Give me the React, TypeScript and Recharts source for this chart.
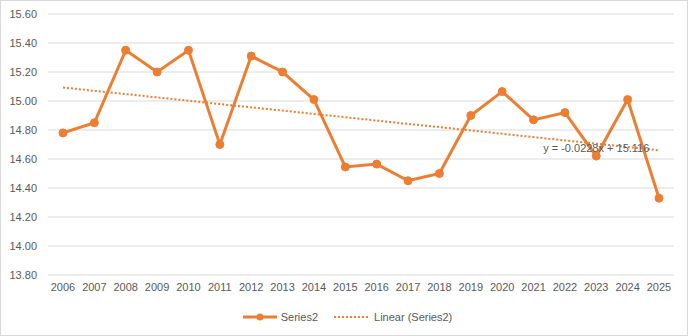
import React from 'react';
import { LineChart, Line, XAxis, YAxis, CartesianGrid, Legend, LabelList } from 'recharts';

const years = ['2006', '2007', '2008', '2009', '2010', '2011', '2012', '2013', '2014', '2015', '2016', '2017', '2018', '2019', '2020', '2021', '2022', '2023', '2024', '2025'];
const series2 = [14.78, 14.85, 15.35, 15.2, 15.35, 14.7, 15.31, 15.2, 15.01, 14.545, 14.565, 14.45, 14.5, 14.9, 15.065, 14.87, 14.92, 14.62, 15.01, 14.33];
const trend = [15.093, 15.07, 15.048, 15.025, 15.002, 14.979, 14.956, 14.934, 14.911, 14.888, 14.865, 14.842, 14.82, 14.797, 14.774, 14.751, 14.728, 14.706, 14.683, 14.66];
const yTicks = [13.8, 14.0, 14.2, 14.4, 14.6, 14.8, 15.0, 15.2, 15.4, 15.6];
const trendLabel = 'y = -0.0228x + 15.116';

const ORANGE = '#ED7D31';
const TEXT = '#595959';
const FONT = '"Liberation Sans", Arial, sans-serif';

const data = years.map((y, i) => ({ year: y, s2: series2[i], trend: trend[i] }));

function LegendBox() {
  return (
    <div style={{ display: 'flex', justifyContent: 'center', alignItems: 'center', gap: 16, paddingLeft: 20, fontFamily: FONT, fontSize: 11, color: TEXT, height: 24 }}>
      <div style={{ display: 'flex', alignItems: 'center' }}>
        <svg width={34} height={10}>
          <line x1={0} y1={5} x2={34} y2={5} stroke={ORANGE} strokeWidth={3} />
          <circle cx={17} cy={5} r={3.5} fill={ORANGE} />
        </svg>
        <span style={{ marginLeft: 4 }}>Series2</span>
      </div>
      <div style={{ display: 'flex', alignItems: 'center' }}>
        <svg width={34} height={10}>
          <line x1={0} y1={5} x2={34} y2={5} stroke={ORANGE} strokeWidth={2} strokeDasharray="2 2" />
        </svg>
        <span style={{ marginLeft: 6 }}>Linear (Series2)</span>
      </div>
    </div>
  );
}

const renderTrendLabel = (props: any) => {
  const { x, y, index } = props;
  if (index !== 17) return null;
  return (
    <text x={x} y={y} dy={8} textAnchor="middle" fill={TEXT} fontSize={11} fontFamily={FONT}>
      {trendLabel}
    </text>
  );
};

export default function App() {
  return (
    <div style={{ position: 'fixed', left: 0, top: 0, width: 688, height: 336, background: '#fff', border: '1px solid #d9d9d9', boxSizing: 'border-box' }}>
      <LineChart width={686} height={334} data={data} margin={{ top: 13, right: 13, left: 0, bottom: 6 }}>
        <CartesianGrid vertical={false} stroke="#d9d9d9" />
        <XAxis dataKey="year" axisLine={false} tickLine={false} height={30} interval={0} padding={{ left: 15, right: 15 }}
          tick={{ fill: TEXT, fontSize: 11, fontFamily: FONT }} />
        <YAxis width={47} domain={[13.8, 15.6]} ticks={yTicks} axisLine={false} tickLine={false} tickMargin={5}
          tickFormatter={(v: number) => v.toFixed(2)} tick={{ fill: TEXT, fontSize: 11, fontFamily: FONT }} />
        <Legend verticalAlign="bottom" height={24} content={() => <LegendBox />} />
        <Line dataKey="trend" stroke={ORANGE} strokeWidth={2} strokeDasharray="2 2" dot={false} activeDot={false} isAnimationActive={false}>
          <LabelList dataKey="trend" content={renderTrendLabel} />
        </Line>
        <Line dataKey="s2" stroke={ORANGE} strokeWidth={3} dot={{ r: 4, fill: ORANGE, stroke: ORANGE, strokeWidth: 1 }} isAnimationActive={false} />
      </LineChart>
    </div>
  );
}
